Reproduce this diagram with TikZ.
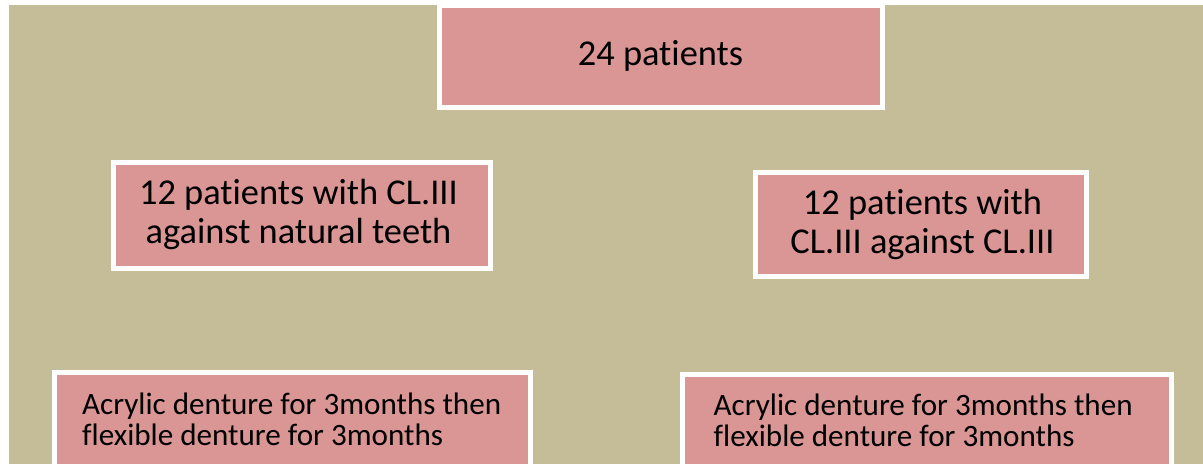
\documentclass[tikz,border=0pt]{standalone}
\usepackage{fontspec}
\setmainfont[RawFeature={-liga}]{Carlito}
\definecolor{bgtan}{HTML}{C4BD97}
\definecolor{boxpink}{HTML}{D99694}
\newcommand\centerlines[2]{\vtop{\halign{\hfil##\hfil\cr #1\cr #2\cr}}}
\newcommand\leftlines[2]{\vtop{\halign{##\hfil\cr #1\cr #2\cr}}}
\tikzset{
  pinkbox/.style n args={2}{draw=white, line width=5bp, fill=boxpink, rectangle,
    inner sep=0pt, outer sep=0pt, minimum width=#1, minimum height=#2},
  bigtext/.style={inner sep=0pt, font=\fontsize{36.4bp}{39bp}\selectfont},
  smalltext/.style={inner sep=0pt, font=\fontsize{31.1bp}{30.5bp}\selectfont},
}
\begin{document}
\begin{tikzpicture}[x=1bp, y=-1bp]
  \useasboundingbox (0,0) rectangle (1203,464);
  \clip (0,0) rectangle (1203,464);
  \fill[white] (0,0) rectangle (1203,464);
  \fill[bgtan] (9,5) rectangle (1203,470);

  \node[pinkbox={443bp}{102bp}] (top) at (661,56.5) {};
  \node[pinkbox={377bp}{106bp}] (ml) at (302,215.5) {};
  \node[pinkbox={331bp}{104bp}] (mr) at (921,224.5) {};
  \node[pinkbox={476bp}{105bp}] (bl) at (292.5,425) {};
  \node[pinkbox={489bp}{105bp}] (br) at (927,427) {};

  \node[bigtext, anchor=base] (toptext) at (660.5,66) {24 patients};
  \node[bigtext, anchor=base] (mltext) at (298.5,205)
    {\centerlines{12 patients with CL.III}{against natural teeth}};
  \node[bigtext, anchor=base] (mrtext) at (922.5,215)
    {\centerlines{12 patients with}{CL.III against CL.III}};
  \node[smalltext, anchor=base west] (bltext) at (82,415)
    {\leftlines{Acrylic denture for 3months then}{flexible denture for 3months}};
  \node[smalltext, anchor=base west] (brtext) at (713.5,416)
    {\leftlines{Acrylic denture for 3months then}{flexible denture for 3months}};
\end{tikzpicture}
\end{document}
